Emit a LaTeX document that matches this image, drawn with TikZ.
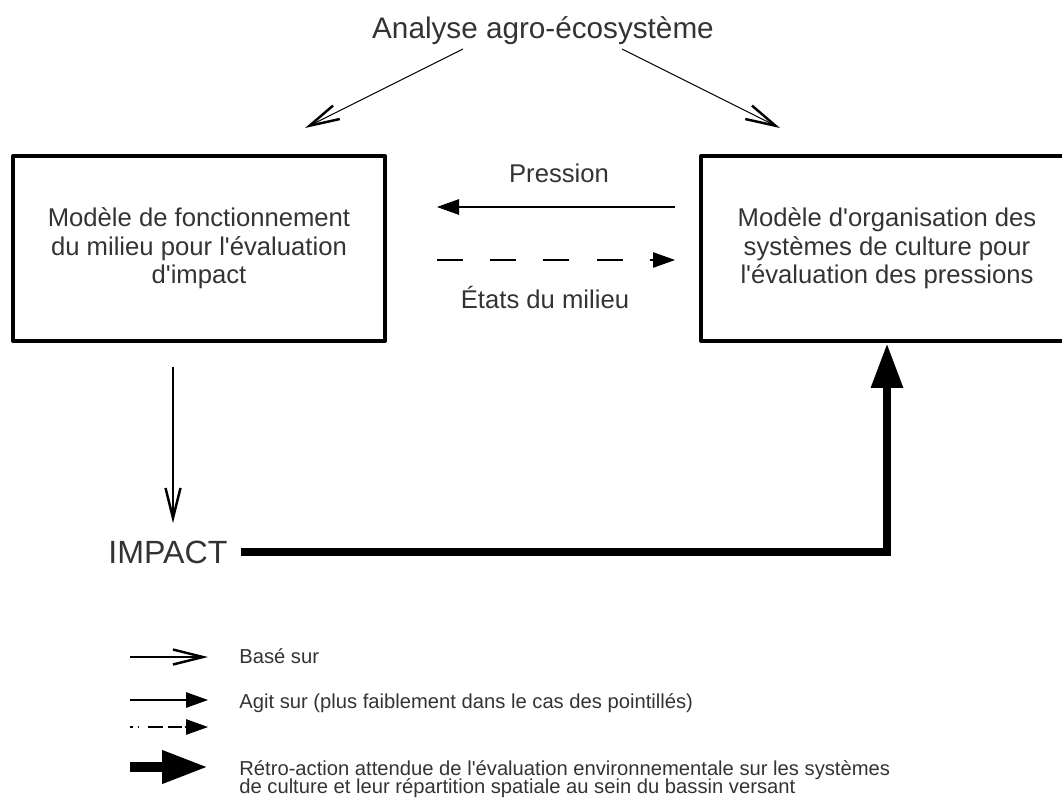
\documentclass[tikz,border=0pt]{standalone}
\usepackage{fontspec}
\setmainfont{Liberation Sans}
\usetikzlibrary{arrows.meta}
\definecolor{ktext}{HTML}{333333}

\begin{document}
\begin{tikzpicture}[x=0.02cm, y=-0.02cm,
  modbox/.style={draw=black, line width=2.3pt, line join=round, minimum width=7.44cm,
    minimum height=3.7cm, align=center, font=\fontsize{14.6}{16.3}\selectfont, text=ktext},
  lbl/.style={font=\fontsize{14.6}{16.2}\selectfont, text=ktext},
  legtext/.style={font={\fontsize{11.5}{10.2}\selectfont\lineskiplimit=-10pt}, text=ktext,
    inner sep=0pt, anchor=base west, align=left},
  basearrow/.style={line width=0.6pt, -{Straight Barb[length=0.6cm, width=0.3cm, line width=1.4pt]}},
  agitarrow/.style={line width=0.6pt, -{Triangle[length=0.44cm, width=0.31cm]}},
  faiblearrow/.style={agitarrow, dash pattern=on 14.7pt off 15.6pt},
  retroarrow/.style={line width=5.1pt, line join=miter, -{Triangle[length=0.9cm, width=0.6cm]}}]
\useasboundingbox (0,0) rectangle (1062,798);

% main boxes
\node[font=\fontsize{16.9}{20}\selectfont, text=ktext] (agro) at (543,31) {Analyse agro-écosystème};
\node[modbox] (milieu) at (199,248.5) {Modèle de fonctionnement\\du milieu pour l\textquotesingle évaluation\\d\textquotesingle impact};
\node[modbox] (orga) at (887,248.5) {Modèle d\textquotesingle organisation des\\systèmes de culture pour\\l\textquotesingle évaluation des pressions};
\node[font=\fontsize{18.3}{20}\selectfont, text=ktext, inner sep=0pt] (impact) at (168,552) {IMPACT};

% based on
\coordinate (agroL) at (463,49);
\coordinate (milieuN) at (305,128);
\coordinate (agroR) at (622,49);
\coordinate (orgaN) at (780,128);
\draw[basearrow] (agroL) -- (milieuN);
\draw[basearrow] (agroR) -- (orgaN);

% pressure and states
\coordinate (pressA) at (675,207);
\coordinate (pressB) at (437,207);
\draw[agitarrow] (pressA) -- (pressB);
\node[lbl] (pression) at (559,173) {Pression};
\coordinate (etatA) at (437,260);
\coordinate (etatB) at (675,260);
\draw[faiblearrow] (etatA) -- (etatB);
\node[lbl] (etats) at (545,297) {États du milieu};

% impact
\coordinate (impA) at (173,367);
\coordinate (impB) at (173,523);
\draw[basearrow] (impA) -- (impB);
\draw[retroarrow] ([xshift=0.26cm]impact.east) -| (orga.south);

% legend
\coordinate (legA1) at (130,657);
\coordinate (legB1) at (208,657);
\draw[basearrow] (legA1) -- (legB1);
\coordinate (legA2) at (130,700);
\coordinate (legB2) at (208,700);
\draw[agitarrow] (legA2) -- (legB2);
\coordinate (legA3) at (130,727);
\coordinate (legB3) at (208,727);
\draw[agitarrow, dash pattern=on 1.7pt off 2.8pt on 0.6pt off 5pt on 8.5pt off 2.8pt on 8pt off 2pt] (legA3) -- (legB3);
\coordinate (legA4) at (130,767);
\coordinate (legB4) at (208,767);
\draw[line width=5.6pt, -{Triangle[length=0.92cm, width=0.62cm]}] (legA4) -- (legB4);
\node[legtext] (legbase) at (239,663) {Basé sur};
\node[legtext] (legagit) at (239,708) {Agit sur (plus faiblement dans le cas des pointillés)};
\node[legtext] (legretro) at (239,793) {Rétro-action attendue de l\textquotesingle évaluation environnementale sur les systèmes\\de culture et leur répartition spatiale au sein du bassin versant};
\end{tikzpicture}
\end{document}
